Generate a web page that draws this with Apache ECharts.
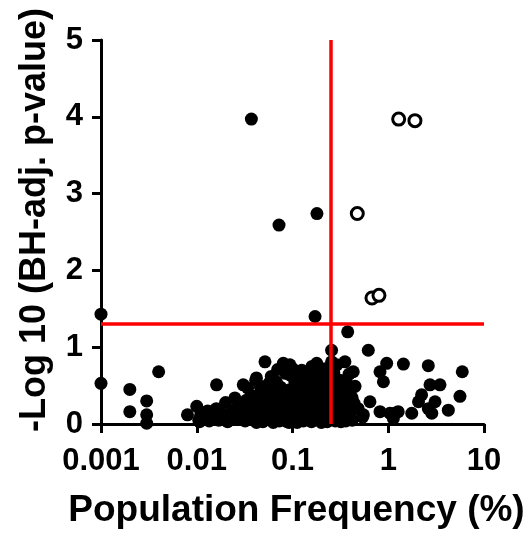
<!DOCTYPE html>
<html>
<head>
<meta charset="utf-8">
<script src="https://cdn.jsdelivr.net/npm/echarts@6/dist/echarts.min.js"></script>
<style>html,body{margin:0;padding:0;background:#fff}#c{width:525px;height:541px}</style>
</head>
<body>
<div id="c"></div>
<script>
// Tick labels
const xTickLabels = ['0.001', '0.01', '0.1', '1', '10'];
const yTicks = [0, 1, 2, 3, 4, 5];

// Thresholds
const freqThreshold = 0.25;
const pThreshold = 1.3;

// Significant (open) points: [population frequency %, -log10 adj p]
const openPoints = [
  [1.285, 3.97], [1.90, 3.95], [0.475, 2.74], [0.676, 1.64], [0.80, 1.675]
];

// Isolated filled points
const filledSparse = [
  [0.001, 1.43], [0.001, 0.53], [0.002, 0.45], [0.002, 0.16], [0.004, 0.68],
  [0.003, 0.30], [0.003, 0.12], [0.003, 0.01], [0.008, 0.12], [0.01, 0.23], [0.0107, 0.03],
  [0.0372, 3.97], [0.18, 2.74], [0.0723, 2.59], [0.172, 1.40], [0.377, 1.20],
  [0.256, 0.96], [0.619, 0.96]
];

// Filled points around the main cluster, upper edge
const filledUpper = [
  [0.0161, 0.51], [0.02, 0.28], [0.0306, 0.51], [0.0413, 0.57], [0.0516, 0.81],
  [0.0283, 0.25], [0.033, 0.31], [0.0802, 0.79], [0.094, 0.77], [0.179, 0.79],
  [0.042, 0.60], [0.0568, 0.53], [0.094, 0.64], [0.13, 0.53], [0.08, 0.44],
  [0.256, 0.81], [0.353, 0.81], [0.431, 0.68], [0.194, 0.68], [0.313, 0.57],
  [0.45, 0.49], [0.30, 0.44], [0.644, 0.29], [0.485, 0.20], [0.353, 0.31],
  [0.55, 0.12], [0.33, 0.20], [0.147, 0.40], [0.20, 0.27], [0.36, 0.57], [0.54, 0.09]
];

// Filled points to the right
const filledRight = [
  [0.963, 0.79], [1.44, 0.78], [0.82, 0.68], [0.89, 0.55], [2.62, 0.76],
  [5.93, 0.68], [2.73, 0.51], [3.47, 0.51], [5.61, 0.36], [2.23, 0.38],
  [2.07, 0.29], [3.08, 0.29], [2.62, 0.20], [2.85, 0.14], [4.24, 0.18],
  [0.82, 0.16], [1.04, 0.14], [1.27, 0.16], [1.76, 0.14], [1.13, 0.07], [1.17, 0.14]
];

// Dense cluster, bottom band
const filledBand1 = [
  [0.0105, 0.05], [0.012, 0.09], [0.0135, 0.04], [0.015, 0.10], [0.017, 0.05],
  [0.019, 0.09], [0.021, 0.03], [0.023, 0.10], [0.026, 0.06], [0.029, 0.11],
  [0.032, 0.04], [0.036, 0.09], [0.04, 0.05], [0.044, 0.12], [0.049, 0.03],
  [0.054, 0.08], [0.06, 0.05], [0.066, 0.11], [0.073, 0.04], [0.08, 0.09],
  [0.088, 0.03], [0.097, 0.10], [0.107, 0.05], [0.118, 0.12], [0.13, 0.04],
  [0.143, 0.09], [0.158, 0.03], [0.174, 0.10], [0.19, 0.05], [0.21, 0.08],
  [0.23, 0.03], [0.25, 0.07], [0.28, 0.04]
];

// Dense cluster, bottom band (upper row)
const filledBand1b = [
  [0.011, 0.12], [0.014, 0.13], [0.018, 0.14], [0.022, 0.13], [0.027, 0.14],
  [0.031, 0.12], [0.035, 0.15], [0.042, 0.02], [0.047, 0.14], [0.057, 0.13],
  [0.063, 0.02], [0.07, 0.13], [0.077, 0.14], [0.085, 0.12], [0.092, 0.02],
  [0.102, 0.13], [0.112, 0.02], [0.124, 0.14], [0.137, 0.12], [0.15, 0.13],
  [0.166, 0.14], [0.182, 0.12], [0.2, 0.02], [0.22, 0.13], [0.24, 0.12],
  [0.27, 0.11], [0.3, 0.06], [0.32, 0.03]
];

// Dense cluster, second band
const filledBand2 = [
  [0.013, 0.17], [0.016, 0.20], [0.024, 0.18], [0.028, 0.15], [0.038, 0.19],
  [0.045, 0.22], [0.052, 0.17], [0.06, 0.24], [0.07, 0.18], [0.08, 0.23],
  [0.09, 0.16], [0.1, 0.25], [0.115, 0.19], [0.13, 0.22], [0.15, 0.17],
  [0.17, 0.24], [0.19, 0.16], [0.22, 0.21], [0.26, 0.15], [0.065, 0.29], [0.12, 0.28]
];

// Dense cluster, middle extra
const filledBand2b = [
  [0.03, 0.22], [0.035, 0.26], [0.043, 0.29], [0.055, 0.27], [0.062, 0.41],
  [0.072, 0.26], [0.078, 0.40], [0.088, 0.28], [0.095, 0.45], [0.105, 0.30],
  [0.12, 0.46], [0.135, 0.27], [0.145, 0.49], [0.155, 0.29], [0.165, 0.44],
  [0.185, 0.27], [0.195, 0.47], [0.215, 0.30], [0.225, 0.44], [0.245, 0.25],
  [0.27, 0.22], [0.29, 0.30], [0.31, 0.16], [0.28, 0.52]
];

// Dense cluster, third band
const filledBand3 = [
  [0.025, 0.34], [0.04, 0.36], [0.048, 0.31], [0.057, 0.38], [0.065, 0.35],
  [0.075, 0.32], [0.085, 0.39], [0.1, 0.34], [0.11, 0.42], [0.125, 0.36],
  [0.14, 0.31], [0.16, 0.38], [0.18, 0.33], [0.2, 0.41], [0.23, 0.35], [0.05, 0.43]
];

// Dense cluster, fourth band
const filledBand4 = [
  [0.034, 0.47], [0.046, 0.49], [0.068, 0.55], [0.075, 0.48], [0.105, 0.57],
  [0.115, 0.50], [0.15, 0.58], [0.17, 0.49], [0.21, 0.55], [0.235, 0.47], [0.24, 0.63], [0.16, 0.66]
];

// Upper cluster extra and right of threshold
const filledBand5 = [
  [0.06, 0.62], [0.07, 0.71], [0.085, 0.66], [0.1, 0.72], [0.11, 0.65],
  [0.125, 0.70], [0.14, 0.63], [0.16, 0.75], [0.185, 0.59], [0.22, 0.72],
  [0.27, 0.67], [0.29, 0.77], [0.39, 0.65], [0.40, 0.42], [0.42, 0.34], [0.37, 0.47],
  [0.27, 0.35], [0.29, 0.12], [0.31, 0.38], [0.34, 0.10], [0.38, 0.25],
  [0.40, 0.15], [0.42, 0.05], [0.36, 0.04], [0.44, 0.27], [0.33, 0.50]
];

const filledPoints = [].concat(filledSparse, filledUpper, filledRight,
  filledBand1, filledBand1b, filledBand2, filledBand2b, filledBand3, filledBand4, filledBand5);

const font = '"Liberation Sans", Arial, Helvetica, sans-serif';
const chart = echarts.init(document.getElementById('c'), null, {renderer: 'canvas'});
chart.setOption({
  animation: false,
  backgroundColor: '#fff',
  grid: {left: 101, right: 41, top: 40, bottom: 117, containLabel: false, outerBoundsMode: 'none'},
  xAxis: {
    type: 'log', logBase: 10, min: 0.001, max: 10,
    name: 'Population Frequency (%)', nameLocation: 'middle', nameGap: 68,
    nameTextStyle: {fontFamily: font, fontWeight: 'bold', fontSize: 37, color: '#000', padding: [0, 0, 0, 8]},
    axisLine: {show: true, onZero: false, lineStyle: {color: '#000', width: 3}},
    axisTick: {show: true, length: 9, lineStyle: {color: '#000', width: 3}},
    minorTick: {show: false},
    splitLine: {show: false},
    axisLabel: {
      margin: 22, fontFamily: font, fontWeight: 'bold', fontSize: 31, color: '#000',
      formatter: function (v) {
        const i = Math.round(Math.log10(v)) + 3;
        return xTickLabels[i] !== undefined ? xTickLabels[i] : '';
      }
    }
  },
  yAxis: {
    type: 'value', min: yTicks[0], max: yTicks[yTicks.length - 1], interval: 1,
    name: '-Log 10 (BH-adj. p-value)', nameLocation: 'middle', nameGap: 48,
    nameTextStyle: {fontFamily: font, fontWeight: 'bold', fontSize: 36, color: '#000', padding: [0, 0, 0, 24]},
    axisLine: {show: true, onZero: false, lineStyle: {color: '#000', width: 3}},
    axisTick: {show: true, length: 9, lineStyle: {color: '#000', width: 3}},
    splitLine: {show: false},
    axisLabel: {margin: 18, fontFamily: font, fontWeight: 'bold', fontSize: 31, color: '#000'}
  },
  series: [
    {
      type: 'scatter', data: filledPoints, symbol: 'circle', symbolSize: 13,
      itemStyle: {color: '#000', opacity: 1}, z: 3, clip: false
    },
    {
      type: 'scatter', data: openPoints, symbol: 'circle', symbolSize: 12,
      itemStyle: {color: '#fff', borderColor: '#000', borderWidth: 3, opacity: 1}, z: 4, clip: false,
      markLine: {
        silent: true, symbol: 'none', z: 10, animation: false,
        label: {show: false},
        lineStyle: {color: '#ff0000', width: 3.5, type: 'solid'},
        data: [{xAxis: freqThreshold}, {yAxis: pThreshold}]
      }
    }
  ]
});
</script>
</body>
</html>
